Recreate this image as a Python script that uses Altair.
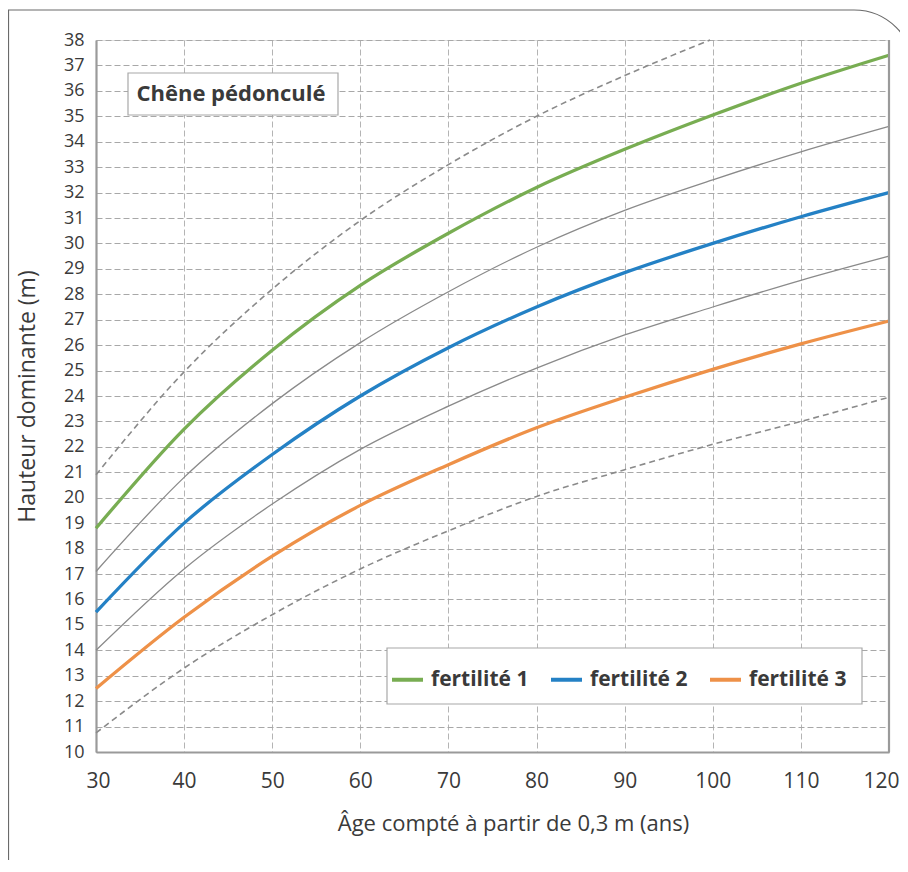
import altair as alt
import pandas as pd

# ---- data ----
ages = [30, 40, 50, 60, 70, 80, 90, 100, 110, 120]
fert1 = [18.8, 22.7, 25.8, 28.35, 30.4, 32.2, 33.7, 35.05, 36.3, 37.4]
fert2 = [15.5, 19.0, 21.7, 24.0, 25.9, 27.5, 28.85, 30.0, 31.05, 32.0]
fert3 = [12.5, 15.3, 17.7, 19.7, 21.3, 22.75, 23.95, 25.05, 26.05, 26.95]
mid12 = [17.1, 20.8, 23.7, 26.1, 28.1, 29.85, 31.3, 32.5, 33.6, 34.6]
mid23 = [14.0, 17.2, 19.75, 21.9, 23.6, 25.1, 26.4, 27.5, 28.55, 29.5]
top_ages = [30, 40, 50, 60, 70, 80, 90, 99.7]
top_vals = [20.9, 24.95, 28.2, 30.9, 33.1, 35.0, 36.6, 38.0]
low_vals = [10.75, 13.3, 15.4, 17.2, 18.7, 20.05, 21.1, 22.1, 23.0, 23.95]

series_names = ["fertilité 1", "fertilité 2", "fertilité 3"]
series_colors = ["#78AD52", "#2481C5", "#EE9148"]
x_ticks = [30, 40, 50, 60, 70, 80, 90, 100, 110, 120]
y_ticks = list(range(10, 39))
title_text = "Chêne pédonculé"
x_title = "Âge compté à partir de 0,3 m (ans)"
y_title = "Hauteur dominante (m)"

FONT = "Open Sans"
TXT = "#3a3a3a"

rows = []
for name, vals in zip(series_names, [fert1, fert2, fert3]):
    for a, v in zip(ages, vals):
        rows.append({"age": a, "h": v, "serie": name})
df_col = pd.DataFrame(rows)

rows = []
for name, vals in [("m12", mid12), ("m23", mid23)]:
    for a, v in zip(ages, vals):
        rows.append({"age": a, "h": v, "serie": name})
df_mid = pd.DataFrame(rows)

rows = []
for a, v in zip(top_ages, top_vals):
    rows.append({"age": a, "h": v, "serie": "haut"})
for a, v in zip(ages, low_vals):
    rows.append({"age": a, "h": v, "serie": "bas"})
df_dash = pd.DataFrame(rows)

xscale = alt.Scale(domain=[30, 120], nice=False, zero=False)
yscale = alt.Scale(domain=[10, 38], nice=False, zero=False)

xaxis = alt.Axis(
    values=x_ticks, title=x_title, ticks=False, labelPadding=18,
    labelOverlap=False, labelFlush=True, labelFlushOffset=10,
    labelFont=FONT, labelFontSize=21, labelColor=TXT,
    titleFont=FONT, titleFontSize=22, titleFontWeight="normal", titleColor=TXT,
    titlePadding=22, titleX=417, titleAlign="center",
    grid=True, gridColor="#b4b4b4", gridDash=[6, 3], gridWidth=1,
    domainColor="#9a9a9a", domainWidth=2.2,
)
yaxis = alt.Axis(
    values=y_ticks, title=y_title, ticks=False, labelPadding=12,
    labelOverlap=False, labelFlush=False,
    labelFont=FONT, labelFontSize=18, labelColor=TXT,
    titleFont=FONT, titleFontSize=23, titleFontWeight="normal", titleColor=TXT,
    titlePadding=24, grid=True, gridColor="#a8a8a8", gridDash=[6, 3], gridWidth=1,
    domainColor="#9a9a9a", domainWidth=2.2,
)

X = alt.X("age:Q", scale=xscale, axis=xaxis)
Y = alt.Y("h:Q", scale=yscale, axis=yaxis)

one = pd.DataFrame({"k": [0]})

frame = alt.Chart(one).mark_rect(
    filled=False, stroke="#6a6a6a", strokeWidth=1.2, cornerRadiusTopRight=60
).encode(x=alt.value(-87.5), x2=alt.value(818), y=alt.value(-30), y2=alt.value(900))

base_mid = alt.Chart(df_mid).mark_line(
    color="#8a8a8a", strokeWidth=1.3, interpolate="monotone"
).encode(x=X, y=Y, detail="serie:N")

dashed = alt.Chart(df_dash).mark_line(
    color="#8a8a8a", strokeWidth=1.6, strokeDash=[6, 4], interpolate="monotone"
).encode(x=X, y=Y, detail="serie:N")

colored = alt.Chart(df_col).mark_line(strokeWidth=3.3, interpolate="monotone").encode(
    x=X,
    y=Y,
    color=alt.Color(
        "serie:N",
        scale=alt.Scale(domain=series_names, range=series_colors),
        legend=alt.Legend(
            title=None, orient="none", legendX=294, legendY=622,
            direction="horizontal", symbolType="stroke", symbolSize=961,
            symbolStrokeWidth=4, labelFont=FONT, labelFontSize=21,
            labelFontWeight="bold", labelColor=TXT, columnPadding=14,
            labelOffset=6, padding=0,
        ),
    ),
)

right_border = alt.Chart(pd.DataFrame({"age": [120]})).mark_rule(
    color="#9a9a9a", strokeWidth=2.2
).encode(x=X)

title_box = alt.Chart(one).mark_rect(
    fill="white", stroke="#a8a8a8", strokeWidth=1.2
).encode(x=alt.value(32), x2=alt.value(242), y=alt.value(33), y2=alt.value(75))

title_mark = alt.Chart(one).mark_text(
    text=title_text, font=FONT, fontSize=22, fontWeight="bold", color=TXT,
    align="center", baseline="middle",
).encode(x=alt.value(135), y=alt.value(54))

legend_box = alt.Chart(one).mark_rect(
    fill="white", stroke="#a8a8a8", strokeWidth=1.2
).encode(x=alt.value(291), x2=alt.value(766), y=alt.value(608), y2=alt.value(664))

chart = alt.layer(
    base_mid, dashed, colored, right_border, frame, title_box, title_mark, legend_box
).properties(
    width=793, height=712,
    autosize=alt.AutoSizeParams(type="none"),
    padding={"left": 88, "top": 32, "right": 11, "bottom": 108},
).configure_view(stroke=None).configure(background="white")

chart.save("out.html", embed_options={"renderer": "svg", "actions": False})
